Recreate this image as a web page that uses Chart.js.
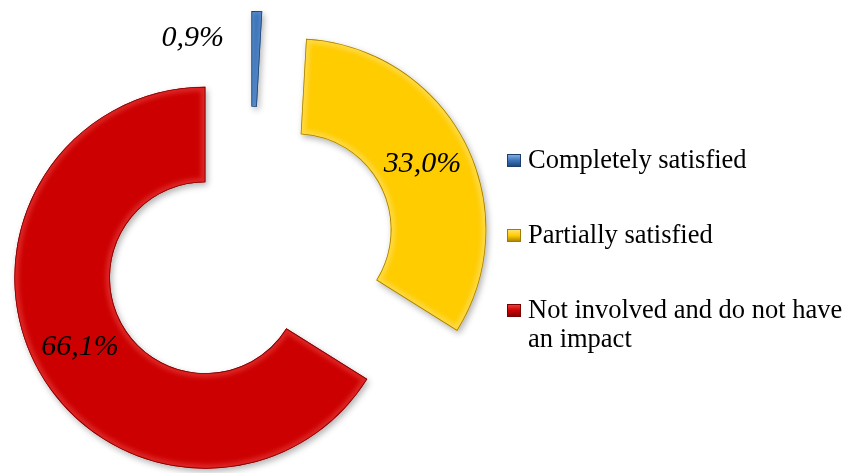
<!DOCTYPE html>
<html>
<head>
<meta charset="utf-8">
<script src="https://cdn.jsdelivr.net/npm/chart.js@4.4.1/dist/chart.umd.min.js"></script>
<style>
  html, body { margin: 0; padding: 0; background: #fff; }
  #wrap { width: 851px; height: 473px; }
</style>
</head>
<body>
<div id="wrap"><canvas id="chart" width="851" height="473"></canvas></div>
<script>
const categories = ['Completely satisfied', 'Partially satisfied', 'Not involved and do not have an impact'];
const shares = [0.9, 33.0, 66.1];

const sliceColors = ['#3c74ba', '#ffcc00', '#cc0000'];
const lightColors = ['#8fb6e6', '#ffe580', '#f04848'];
const rimColors = ['#1d3f6e', '#a07c00', '#7a0000'];

// every slice is pulled out of the ring by the same distance
const EXPLODE = 51;

function fmtShare(v) {
    return v.toFixed(1).replace('.', ',') + '%';
}

function shiftOf(arc) {
    const mid = (arc.startAngle + arc.endAngle) / 2;
    return { dx: Math.cos(mid) * EXPLODE, dy: Math.sin(mid) * EXPLODE, mid };
}

function ringPath(ctx, arc) {
    ctx.beginPath();
    ctx.arc(arc.x, arc.y, arc.outerRadius, arc.startAngle, arc.endAngle);
    ctx.arc(arc.x, arc.y, arc.innerRadius, arc.endAngle, arc.startAngle, true);
    ctx.closePath();
}

// Chart.js' own offset also grows the radius, so the slices are
// drawn here instead, each one moved rigidly along its middle angle
const exploded = {
    id: 'exploded',
    beforeDatasetsDraw(chart) {
        const ctx = chart.ctx;
        const arcs = chart.getDatasetMeta(0).data;

        arcs.forEach(arc => {
            const s = shiftOf(arc);
            ctx.save();
            ctx.translate(s.dx, s.dy);
            ctx.shadowColor = 'rgba(0, 0, 0, 0.3)';
            ctx.shadowBlur = 6;
            ctx.shadowOffsetX = 2;
            ctx.shadowOffsetY = 3;
            arc.draw(ctx);
            ctx.restore();
        });

        // bevelled rim
        arcs.forEach((arc, i) => {
            const s = shiftOf(arc);
            ctx.save();
            ctx.translate(s.dx, s.dy);
            ringPath(ctx, arc);
            ctx.clip();
            ctx.lineJoin = 'round';
            ctx.filter = 'blur(2px)';
            ctx.strokeStyle = lightColors[i];
            ctx.globalAlpha = 0.5;
            ctx.lineWidth = shares[i] < 5 ? 3 : 9;
            ctx.stroke();
            ctx.filter = 'none';
            ctx.globalAlpha = 1;
            ctx.strokeStyle = rimColors[i];
            ctx.lineWidth = 1.5;
            ctx.stroke();
            ctx.restore();
        });

        // percentage labels
        ctx.save();
        ctx.font = 'italic 30px "Liberation Serif", "Times New Roman", serif';
        ctx.fillStyle = '#000';
        ctx.textBaseline = 'middle';
        arcs.forEach((arc, i) => {
            const s = shiftOf(arc);
            const cx = arc.x + s.dx, cy = arc.y + s.dy;
            const text = fmtShare(shares[i]);
            if (shares[i] < 5) {
                // thin slice: put the label beside it
                const r = arc.outerRadius * 0.86;
                ctx.textAlign = 'right';
                ctx.fillText(text, cx + Math.cos(s.mid) * r - 32, cy + Math.sin(s.mid) * r);
            } else {
                const r = (arc.innerRadius + arc.outerRadius) / 2;
                ctx.textAlign = 'center';
                ctx.fillText(text, cx + Math.cos(s.mid) * r, cy + Math.sin(s.mid) * r);
            }
        });
        ctx.restore();
        return false;
    }
};

function wrapText(ctx, text, maxWidth) {
    const words = text.split(' ');
    const lines = [];
    let line = '';
    words.forEach(w => {
        const test = line ? line + ' ' + w : w;
        if (line && ctx.measureText(test).width > maxWidth) {
            lines.push(line);
            line = w;
        } else {
            line = test;
        }
    });
    lines.push(line);
    return lines;
}

const sideLegend = {
    id: 'sideLegend',
    afterDraw(chart) {
        const ctx = chart.ctx;
        const boxX = 507;
        const textX = 528;
        const lineH = 29;
        let y = 168;
        ctx.save();
        ctx.font = '26.5px "Liberation Serif", "Times New Roman", serif';
        ctx.textBaseline = 'alphabetic';
        ctx.textAlign = 'left';
        categories.forEach((cat, i) => {
            const g = ctx.createLinearGradient(0, y - 14, 0, y - 1);
            g.addColorStop(0, lightColors[i]);
            g.addColorStop(0.5, sliceColors[i]);
            g.addColorStop(1, rimColors[i]);
            ctx.fillStyle = g;
            ctx.fillRect(boxX, y - 14, 14, 13);
            ctx.strokeStyle = rimColors[i];
            ctx.lineWidth = 1;
            ctx.strokeRect(boxX + 0.5, y - 13.5, 13, 12);

            ctx.fillStyle = '#000';
            const lines = wrapText(ctx, cat, 322);
            lines.forEach((ln, j) => ctx.fillText(ln, textX, y + j * lineH));
            y += (lines.length - 1) * lineH + 75;
        });
        ctx.restore();
    }
};

new Chart(document.getElementById('chart'), {
    type: 'doughnut',
    data: {
        labels: categories,
        datasets: [{
            data: shares,
            backgroundColor: sliceColors,
            borderWidth: 0,
            hoverOffset: 0,
        }]
    },
    options: {
        responsive: false,
        devicePixelRatio: 1,
        animation: false,
        radius: 191,
        cutout: '50%',
        layout: {
            padding: { left: 0, right: 351, top: 33, bottom: 0 }
        },
        plugins: {
            legend: { display: false },
            tooltip: { enabled: false },
        },
    },
    plugins: [exploded, sideLegend],
});
</script>
</body>
</html>
